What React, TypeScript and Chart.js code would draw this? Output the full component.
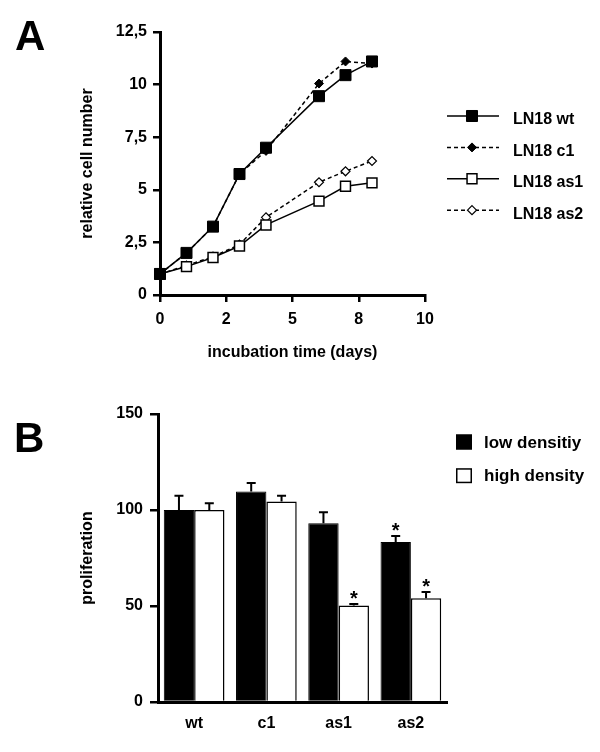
import React, { useEffect, useRef } from 'react';
import { Chart, registerables } from 'chart.js';

Chart.register(...registerables);

const FONT = "'Liberation Sans', Arial, Helvetica, sans-serif";
Chart.defaults.font.family = FONT;
Chart.defaults.color = '#000';

// ---------- Panel A data ----------
const days = [0, 1, 2, 3, 4, 6, 7, 8];
const wtValues = [1.0, 2.0, 3.25, 5.75, 7.0, 9.45, 10.45, 11.1];
const c1Values = [1.0, 2.0, 3.25, 5.75, 6.85, 10.05, 11.1, 11.0];
const as1Values = [1.0, 1.35, 1.78, 2.33, 3.33, 4.46, 5.17, 5.33];
const as2Values = [1.0, 1.4, 1.82, 2.4, 3.69, 5.36, 5.88, 6.37];
const lineSeriesNames = ['LN18 wt', 'LN18 c1', 'LN18 as1', 'LN18 as2'];
const xTickValuesA = [0, 2.5, 5, 7.5, 10];
const xTickLabelsA = ['0', '2', '5', '8', '10'];
const yTickValuesA = [0, 2.5, 5, 7.5, 10, 12.5];
const yTickLabelsA = ['0', '2,5', '5', '7,5', '10', '12,5'];
const xTitleA = 'incubation time (days)';
const yTitleA = 'relative cell number';

// ---------- Panel B data ----------
const groups = ['wt', 'c1', 'as1', 'as2'];
const lowDensity = [100, 109.6, 93.1, 83.3];
const lowDensityErr = [7.4, 4.4, 5.7, 3.2];
const highDensity = [100, 104.4, 50.3, 54.1];
const highDensityErr = [3.5, 3.0, 0.7, 3.2];
const lowSignificant = [false, false, false, true];
const highSignificant = [false, false, true, true];
const barSeriesNames = ['low densitiy', 'high density'];
const yTickValuesB = [0, 50, 100, 150];
const yTitleB = 'proliferation';

const errArrays = [lowDensityErr, highDensityErr];
const sigArrays = [lowSignificant, highSignificant];

function drawMarker(ctx: CanvasRenderingContext2D, style: string, r: number, x: number, y: number, fill: string, bw: number) {
  ctx.save();
  ctx.setLineDash([]);
  ctx.fillStyle = fill;
  ctx.strokeStyle = '#000';
  ctx.lineWidth = bw;
  ctx.beginPath();
  if (style === 'rect') {
    const s = r * Math.SQRT1_2;
    ctx.rect(x - s, y - s, 2 * s, 2 * s);
  } else {
    ctx.moveTo(x, y - r);
    ctx.lineTo(x + r, y);
    ctx.lineTo(x, y + r);
    ctx.lineTo(x - r, y);
    ctx.closePath();
  }
  ctx.fill();
  ctx.stroke();
  ctx.restore();
}

const lineLegend = {
  id: 'lineLegend',
  afterDraw(chart: any) {
    const ctx: CanvasRenderingContext2D = chart.ctx;
    chart.data.datasets.forEach((ds: any, i: number) => {
      const y = 116 + i * 31.4;
      ctx.save();
      ctx.strokeStyle = '#000';
      ctx.lineWidth = 1.5;
      ctx.setLineDash(ds.borderDash || []);
      ctx.beginPath();
      ctx.moveTo(447, y);
      ctx.lineTo(499, y);
      ctx.stroke();
      ctx.restore();
      drawMarker(ctx, ds.pointStyle, ds.pointRadius, 472, y, ds.pointBackgroundColor, ds.pointBorderWidth);
      ctx.save();
      ctx.fillStyle = '#000';
      ctx.font = `bold 16px ${FONT}`;
      ctx.textAlign = 'left';
      ctx.textBaseline = 'middle';
      ctx.fillText(ds.label, 513, y + 4);
      ctx.restore();
    });
  },
};

const barExtras = {
  id: 'barExtras',
  afterDatasetsDraw(chart: any) {
    const ctx: CanvasRenderingContext2D = chart.ctx;
    const yScale = chart.scales.y;
    chart.data.datasets.forEach((ds: any, di: number) => {
      const meta = chart.getDatasetMeta(di);
      meta.data.forEach((bar: any, i: number) => {
        const topVal = ds.data[i] + errArrays[di][i];
        const top = yScale.getPixelForValue(topVal);
        ctx.save();
        ctx.strokeStyle = '#000';
        ctx.lineWidth = 2;
        ctx.beginPath();
        ctx.moveTo(bar.x, bar.y);
        ctx.lineTo(bar.x, top);
        ctx.moveTo(bar.x - 4.5, top);
        ctx.lineTo(bar.x + 4.5, top);
        ctx.stroke();
        if (sigArrays[di][i]) {
          ctx.fillStyle = '#000';
          ctx.font = `bold 20px ${FONT}`;
          ctx.textAlign = 'center';
          ctx.textBaseline = 'alphabetic';
          ctx.fillText('*', bar.x, top + 1);
        }
        ctx.restore();
      });
    });
  },
  afterDraw(chart: any) {
    const ctx: CanvasRenderingContext2D = chart.ctx;
    chart.data.datasets.forEach((ds: any, i: number) => {
      const cy = 72 + i * 33.7;
      ctx.save();
      ctx.fillStyle = ds.backgroundColor;
      ctx.strokeStyle = '#000';
      ctx.lineWidth = 1.5;
      ctx.fillRect(456, cy - 7.5, 16, 15);
      ctx.strokeRect(456.75, cy - 6.75, 14.5, 13.5);
      ctx.fillStyle = '#000';
      ctx.font = `bold 17px ${FONT}`;
      ctx.textAlign = 'left';
      ctx.textBaseline = 'middle';
      ctx.fillText(ds.label, 484, cy + 1);
      ctx.restore();
    });
  },
};

const tickFont = { size: 16, weight: 'bold' as const };
const titleFont = { size: 16, weight: 'bold' as const };

function LineChartA() {
  const ref = useRef<HTMLCanvasElement>(null);
  useEffect(() => {
    const mk = (d: number[]) => days.map((x, i) => ({ x, y: d[i] }));
    const chart = new Chart(ref.current as HTMLCanvasElement, {
      type: 'line',
      data: {
        datasets: [
          { label: lineSeriesNames[0], data: mk(wtValues), borderColor: '#000', borderWidth: 1.5, borderDash: [], pointStyle: 'rect', pointRadius: 7.8, pointBackgroundColor: '#000', pointBorderColor: '#000', pointBorderWidth: 1, clip: false },
          { label: lineSeriesNames[1], data: mk(c1Values), borderColor: '#000', borderWidth: 1.5, borderDash: [4, 3], pointStyle: 'rectRot', pointRadius: 4.5, pointBackgroundColor: '#000', pointBorderColor: '#000', pointBorderWidth: 1, clip: false },
          { label: lineSeriesNames[2], data: mk(as1Values), borderColor: '#000', borderWidth: 1.5, borderDash: [], pointStyle: 'rect', pointRadius: 7, pointBackgroundColor: '#fff', pointBorderColor: '#000', pointBorderWidth: 1.5, clip: false },
          { label: lineSeriesNames[3], data: mk(as2Values), borderColor: '#000', borderWidth: 1.5, borderDash: [4, 3], pointStyle: 'rectRot', pointRadius: 4.5, pointBackgroundColor: '#fff', pointBorderColor: '#000', pointBorderWidth: 1.2, clip: false },
        ] as any,
      },
      options: {
        animation: false,
        responsive: false,
        layout: { padding: { left: 70, top: 32, right: 175, bottom: 0 } },
        plugins: { legend: { display: false }, tooltip: { enabled: false } },
        scales: {
          x: {
            type: 'linear', min: 0, max: 10,
            afterBuildTicks: (s: any) => { s.ticks = xTickValuesA.map((v) => ({ value: v })); },
            afterFit: (s: any) => { s.height = 75; s.paddingLeft = 0; s.paddingRight = 0; },
            ticks: { callback: (_v: any, i: number) => xTickLabelsA[i], font: tickFont, padding: 8, color: '#000', maxRotation: 0, autoSkip: false },
            grid: { display: true, drawOnChartArea: false, tickLength: 7, lineWidth: 2.5, color: '#000' },
            border: { display: true, width: 3, color: '#000' },
            title: { display: true, text: xTitleA, font: titleFont, color: '#000', padding: { top: 0, bottom: 8 } },
          },
          y: {
            type: 'linear', min: 0, max: 12.5,
            afterBuildTicks: (s: any) => { s.ticks = yTickValuesA.map((v) => ({ value: v })); },
            afterFit: (s: any) => { s.width = 90; s.paddingTop = 0; s.paddingBottom = 0; },
            ticks: { callback: (_v: any, i: number) => yTickLabelsA[i], font: tickFont, padding: 6, color: '#000', autoSkip: false },
            grid: { display: true, drawOnChartArea: false, tickLength: 7, lineWidth: 2.5, color: '#000' },
            border: { display: true, width: 3, color: '#000' },
            title: { display: true, text: yTitleA, font: titleFont, color: '#000', padding: { top: 8, bottom: 0 } },
          },
        },
      } as any,
      plugins: [lineLegend],
    });
    return () => chart.destroy();
  }, []);
  return <canvas ref={ref} width={600} height={370} style={{ position: 'absolute', left: 0, top: 0 }} />;
}

function BarChartB() {
  const ref = useRef<HTMLCanvasElement>(null);
  useEffect(() => {
    const chart = new Chart(ref.current as HTMLCanvasElement, {
      type: 'bar',
      data: {
        labels: groups,
        datasets: [
          { label: barSeriesNames[0], data: lowDensity, backgroundColor: '#000', borderColor: '#000', borderWidth: 1, categoryPercentage: 0.84, barPercentage: 1.0 },
          { label: barSeriesNames[1], data: highDensity, backgroundColor: '#fff', borderColor: '#000', borderWidth: 1.5, categoryPercentage: 0.84, barPercentage: 1.0 },
        ] as any,
      },
      options: {
        animation: false,
        responsive: false,
        layout: { padding: { left: 70, top: 44, right: 153, bottom: 0 } },
        plugins: { legend: { display: false }, tooltip: { enabled: false } },
        scales: {
          x: {
            type: 'category', offset: true,
            afterFit: (s: any) => { s.height = 50; s.paddingLeft = 0; s.paddingRight = 0; },
            ticks: { font: tickFont, padding: 12, color: '#000' },
            grid: { display: false, drawTicks: false },
            border: { display: true, width: 3, color: '#000' },
          },
          y: {
            type: 'linear', min: 0, max: 150,
            afterBuildTicks: (s: any) => { s.ticks = yTickValuesB.map((v) => ({ value: v })); },
            afterFit: (s: any) => { s.width = 88; s.paddingTop = 0; s.paddingBottom = 0; },
            ticks: { font: tickFont, padding: 7, color: '#000', autoSkip: false },
            grid: { display: true, drawOnChartArea: false, tickLength: 8, lineWidth: 2.5, color: '#000' },
            border: { display: true, width: 3, color: '#000' },
            title: { display: true, text: yTitleB, font: titleFont, color: '#000', padding: { top: 8, bottom: 0 } },
          },
        },
      } as any,
      plugins: [barExtras],
    });
    return () => chart.destroy();
  }, []);
  return <canvas ref={ref} width={600} height={382} style={{ position: 'absolute', left: 0, top: 370 }} />;
}

const panelLabelStyle: React.CSSProperties = {
  position: 'absolute',
  fontFamily: FONT,
  fontWeight: 'bold',
  fontSize: 42,
  lineHeight: 1,
  color: '#000',
};

export default function App() {
  return (
    <div style={{ position: 'absolute', left: 0, top: 0, width: 600, height: 752, background: '#fff', overflow: 'hidden' }}>
      <LineChartA />
      <BarChartB />
      <div style={{ ...panelLabelStyle, left: 15, top: 14.5 }}>A</div>
      <div style={{ ...panelLabelStyle, left: 14, top: 417 }}>B</div>
    </div>
  );
}
